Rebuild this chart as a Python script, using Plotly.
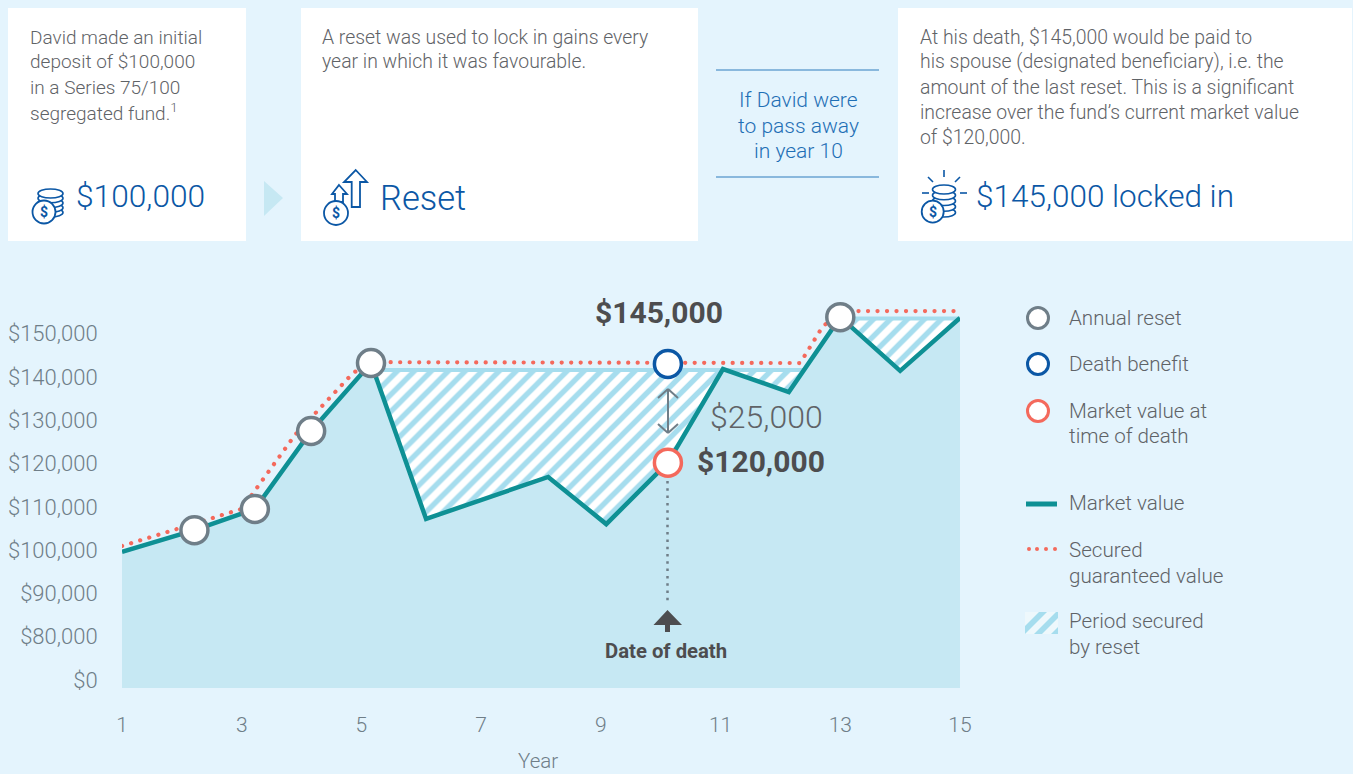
import plotly.graph_objects as go

# ---------- data ----------
year_ticks = [1, 3, 5, 7, 9, 11, 13, 15]
dollar_ticks = [0, 80000, 90000, 100000, 110000, 120000, 130000, 140000, 150000]
dollar_labels = ["$0", "$80,000", "$90,000", "$100,000", "$110,000", "$120,000", "$130,000", "$140,000", "$150,000"]

market_x = [1.0, 2.21, 3.22, 4.16, 5.16, 6.08, 8.12, 9.09, 10.12, 11.04, 12.14, 13.0, 14.0, 15.0]
market_y = [99600, 104600, 109500, 127500, 143200, 107200, 116900, 106000, 120200, 141800, 136500, 153800, 141400, 153600]

secured_x = [1.0, 3.0, 3.89, 4.86, 5.16, 12.33, 12.7, 13.0, 15.0]
secured_y = [100950, 109500, 126600, 140900, 143400, 143200, 151500, 155200, 155200]

reset_x = [2.21, 3.22, 4.16, 5.16, 13.0]
reset_y = [104600, 109500, 127500, 143200, 153800]

death_x = [10.12]
death_benefit_y = [143000]
death_market_y = [120200]

hatch1_x = [5.16, 6.08, 8.12, 9.09, 10.12, 11.04, 12.14, 12.39, 5.3]
hatch1_y = [141600, 107200, 116900, 106000, 120200, 141800, 136500, 141600, 141600]
hatch2_x = [13.0, 14.0, 15.0, 13.3]
hatch2_y = [153500, 141400, 153500, 153500]

band_x = [[5.3, 12.39], [13.1, 15.0]]
band_y = [[141600, 141600], [153500, 153500]]

# ---------- colours ----------
BG = "#E4F4FD"
AREA = "#C6E8F3"
HATCH = "#A6DDEE"
TEAL = "#0E9094"
CORAL = "#F4695C"
GREY = "#6F7E88"
BLUE = "#0B57A5"
TXT = "#5F6367"
DARK = "#4D4D4F"
FONT = "Roboto"
LIGHT = 300

# ---------- geometry ----------
L, R, T, B = 122, 960, 290, 688
W, H = 1353, 774
FLOOR = -1848
TOP = 90069


def disp(v):
    """Broken axis: $0 sits one step below $80,000."""
    return v - 70000 if v > 0 else 0


def disp_list(vs):
    return [disp(v) for v in vs]


def px(x):
    return (x - L) / (R - L)


def py(y):
    return (B - y) / (B - T)


fig = go.Figure()

floor_y = [FLOOR] * len(market_x)
fig.add_trace(go.Scatter(x=market_x, y=floor_y, mode="lines", line=dict(width=0), hoverinfo="skip", showlegend=False))
fig.add_trace(go.Scatter(x=market_x, y=disp_list(market_y), mode="none", fill="tonexty", fillcolor=AREA,
                         hoverinfo="skip", showlegend=False))
for hx, hy in ((hatch1_x, hatch1_y), (hatch2_x, hatch2_y)):
    fig.add_trace(go.Scatter(x=hx, y=disp_list(hy), mode="none", fill="toself", showlegend=False, hoverinfo="skip",
                             fillcolor="rgba(255,255,255,0)",
                             fillpattern=dict(shape="/", size=12, solidity=0.45, fgcolor=HATCH, bgcolor="#FFFFFF",
                                              fillmode="replace")))
for bx, by in zip(band_x, band_y):
    fig.add_trace(go.Scatter(x=bx, y=disp_list(by), mode="lines", line=dict(color=HATCH, width=4),
                             hoverinfo="skip", showlegend=False))
fig.add_trace(go.Scatter(x=market_x, y=disp_list(market_y), mode="lines", name="Market value",
                         line=dict(color=TEAL, width=4.5), cliponaxis=False, showlegend=False))
fig.add_trace(go.Scatter(x=secured_x, y=disp_list(secured_y), mode="lines", name="Secured guaranteed value",
                         line=dict(color=CORAL, width=4.2, dash="0.1px,9.4px"), cliponaxis=False, showlegend=False))
fig.add_trace(go.Scatter(x=reset_x, y=disp_list(reset_y), mode="markers", name="Annual reset", cliponaxis=False,
                         marker=dict(size=27, color="white", line=dict(color=GREY, width=3.5)), showlegend=False))
fig.add_trace(go.Scatter(x=death_x, y=disp_list(death_benefit_y), mode="markers", name="Death benefit", cliponaxis=False,
                         marker=dict(size=27, color="white", line=dict(color=BLUE, width=3.5)), showlegend=False))
fig.add_trace(go.Scatter(x=death_x, y=disp_list(death_market_y), mode="markers", name="Market value at time of death",
                         cliponaxis=False,
                         marker=dict(size=27, color="white", line=dict(color=CORAL, width=3.5)), showlegend=False))

shapes = []


def rect(x0, y0, x1, y1, color):
    shapes.append(dict(type="rect", xref="paper", yref="paper", x0=px(x0), x1=px(x1), y0=py(y0), y1=py(y1),
                       fillcolor=color, line=dict(width=0), layer="below"))


def line(x0, y0, x1, y1, color, width=1.5, dash="solid"):
    shapes.append(dict(type="line", xref="paper", yref="paper", x0=px(x0), x1=px(x1), y0=py(y0), y1=py(y1),
                       line=dict(color=color, width=width, dash=dash)))


def circle(cx, cy, r, fill, stroke, width):
    shapes.append(dict(type="circle", xref="paper", yref="paper", x0=px(cx - r), x1=px(cx + r),
                       y0=py(cy + r), y1=py(cy - r), fillcolor=fill, line=dict(color=stroke, width=width)))


def poly(pts, fill=None, stroke=None, width=0):
    d = "M " + " L ".join(f"{px(a):.5f} {py(b):.5f}" for a, b in pts) + " Z"
    shapes.append(dict(type="path", xref="paper", yref="paper", path=d, fillcolor=fill or "rgba(0,0,0,0)",
                       line=dict(color=stroke or "rgba(0,0,0,0)", width=width)))


def stack(cx, top, bottom, hw, n=5):
    step = (bottom - top - 9) / (n - 1)
    for i in range(n):
        yc = bottom - 4.5 - i * step
        shapes.append(dict(type="circle", xref="paper", yref="paper", x0=px(cx - hw), x1=px(cx + hw),
                           y0=py(yc + 4.5), y1=py(yc - 4.5), fillcolor="white", line=dict(color=BLUE, width=1.6)))


rect(8, 8, 246, 241, "white")
rect(301, 8, 698, 241, "white")
rect(898, 8, 1352, 241, "white")
poly([(264, 181), (283, 198), (264, 216)], fill=AREA)
line(716, 70, 879, 70, "#2F7DBE", 1.2)
line(716, 177, 879, 177, "#2F7DBE", 1.2)

# icons
stack(50.5, 189, 217, 12.5)
circle(44, 212, 11.5, "white", BLUE, 1.8)
poly([(355.7, 170), (367, 182), (360, 182), (360, 207), (351.7, 207), (351.7, 182), (344, 182)], stroke=BLUE, width=1.8)
poly([(339, 185), (347, 194), (343, 194), (343, 202), (335, 202), (335, 194), (332, 194)], stroke=BLUE, width=1.8)
circle(336, 213, 12, "white", BLUE, 1.8)
stack(944, 185, 217, 11.5)
circle(932.7, 211.7, 11, "white", BLUE, 1.8)
for seg in [(944, 170, 944, 177), (928, 177, 933, 182), (960, 177, 955, 182), (922, 193, 929, 193), (960, 193, 967, 193)]:
    line(*seg, BLUE, 1.6)

# chart furniture
shapes.append(dict(type="line", xref="paper", yref="paper", x0=px(667.5), x1=px(667.5), y0=py(481), y1=py(603),
                   line=dict(color=GREY, width=2.5, dash="2.5px,4.8px")))
poly([(667.5, 610), (682, 625), (670, 625), (670, 632), (665, 632), (665, 625), (653.5, 625)], fill=DARK)
line(668, 389, 668, 433, GREY, 2)
for a in [((658, 398), (668, 389), (678, 398)), ((658, 424), (668, 433), (678, 424))]:
    line(a[0][0], a[0][1], a[1][0], a[1][1], GREY, 2)
    line(a[1][0], a[1][1], a[2][0], a[2][1], GREY, 2)

# legend keys
circle(1038, 318, 10.5, "white", GREY, 3)
circle(1038, 364, 10.5, "white", BLUE, 3)
circle(1038, 411, 10.5, "white", CORAL, 3)
line(1026, 504, 1057, 504, TEAL, 5)
for dx in (1029, 1037, 1046, 1055):
    circle(dx, 549, 2, CORAL, CORAL, 0)
poly([(1025, 612), (1058, 612), (1058, 634), (1025, 634)], fill="#EEF8FC")
poly([(1025, 626), (1039, 612), (1047, 612), (1025, 634)], fill=HATCH)
poly([(1034, 634), (1056, 612), (1058, 612), (1058, 618), (1042, 634)], fill=HATCH)
poly([(1051, 634), (1058, 627), (1058, 634)], fill=HATCH)

annotations = []


def text(s, x, y, size=18, color=TXT, anchor="left", bold=False):
    annotations.append(dict(text=f"<b>{s}</b>" if bold else s, xref="paper", yref="paper", x=px(x), y=py(y),
                            xanchor=anchor, yanchor="middle", showarrow=False, borderpad=0,
                            font=dict(family=FONT, size=size, color=color, weight=700 if bold else LIGHT)))


for s, y in [("David made an initial", 37), ("deposit of $100,000", 62), ("in a Series 75/100", 88),
             ("segregated fund.<sup>1</sup>", 113)]:
    text(s, 29, y, 19)
for s, y in [("A reset was used to lock in gains every", 37), ("year in which it was favourable.", 62)]:
    text(s, 321, y, 19.4)
for s, y in [("At his death, $145,000 would be paid to", 37), ("his spouse (designated beneficiary), i.e. the", 62),
             ("amount of the last reset. This is a significant", 88), ("increase over the fund’s current market value", 113),
             ("of $120,000.", 138)]:
    text(s, 919, y, 19.4)
for s, y in [("If David were", 100), ("to pass away", 126), ("in year 10", 151)]:
    text(s, 798, y, 21, "#1F6FB5", "center")
text("$100,000", 75, 197, 31.7, BLUE)
text("Reset", 379, 198, 34.5, BLUE)
text("$145,000 locked in", 975, 197, 31.5, BLUE)
for cx, cy in [(44, 212), (336, 213), (932.7, 211.7)]:
    text("$", cx, cy, 14, BLUE, "center", True)

text("$145,000", 659, 312, 30, DARK, "center", True)
text("$25,000", 766, 417, 32, TXT, "center")
text("$120,000", 761, 461, 30, DARK, "center", True)
text("Date of death", 666, 651, 20.3, DARK, "center", True)
text("Year", 538, 761, 20.5, GREY, "center")

for s, y in [("Annual reset", 318), ("Death benefit", 364), ("Market value at", 411), ("time of death", 436),
             ("Market value", 503), ("Secured", 550), ("guaranteed value", 576), ("Period secured", 621), ("by reset", 647)]:
    text(s, 1068, y, 20.6)

tick_font = dict(family=FONT, size=21, color=GREY, weight=LIGHT)
fig.update_layout(
    width=W, height=H, autosize=False,
    margin=dict(l=L, r=W - R, t=T, b=H - B, pad=0),
    paper_bgcolor=BG, plot_bgcolor="rgba(0,0,0,0)",
    font=dict(family=FONT, size=19, color=GREY),
    showlegend=False, hovermode=False,
    shapes=shapes, annotations=annotations,
    xaxis=dict(range=[1, 15], tickmode="array", tickvals=year_ticks, showgrid=False, zeroline=False, showline=False,
               ticks="outside", ticklen=18, tickcolor="rgba(0,0,0,0)", tickfont=tick_font, automargin=False),
    yaxis=dict(range=[FLOOR, TOP], tickmode="array", tickvals=disp_list(dollar_ticks), ticktext=dollar_labels,
               showgrid=False, zeroline=False, showline=False, ticks="outside", ticklen=19,
               tickcolor="rgba(0,0,0,0)", tickfont=dict(family=FONT, size=22, color=GREY, weight=LIGHT), automargin=False),
)

round_dots = """
document.body.style.margin='0';document.body.style.overflow='hidden';
var gd=document.querySelector('.plotly-graph-div');
function rd(){document.querySelectorAll('.js-line').forEach(function(p){
  if((p.style.strokeDasharray||'').indexOf('0.1')===0){p.style.strokeLinecap='round';}
});}
rd();if(gd&&gd.on){gd.on('plotly_afterplot',rd);}
"""
fig.write_html("out.html", config=dict(displayModeBar=False), post_script=round_dots)
